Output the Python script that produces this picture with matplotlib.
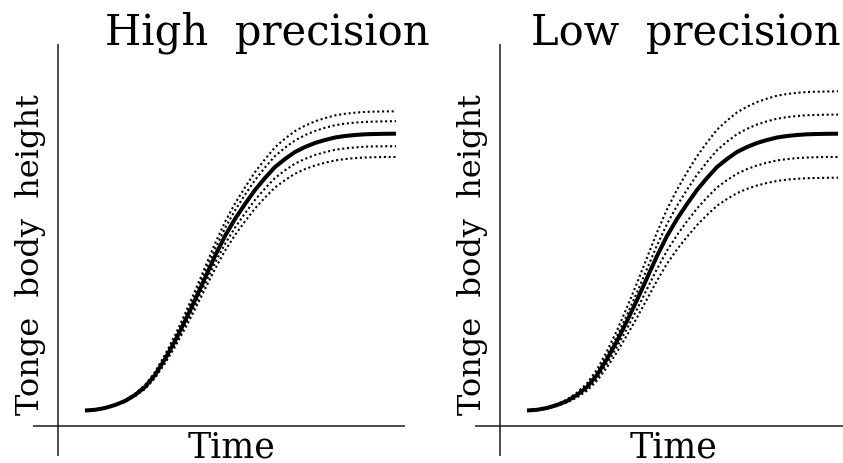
import matplotlib.pyplot as plt

# Data (time in ms from movement onset, height in arbitrary units)
Time = [0, 10, 20, 30, 40, 50, 60, 70, 80, 90, 100, 110, 120, 130, 140, 150,
        160, 170, 180, 190, 200, 210, 220, 230, 240, 250, 260, 270, 280, 290, 300, 311]

MeanHeight = [15.5, 16.2, 18.0, 21.0, 25.0, 31.0, 39.0, 51.0, 67.0, 85.0, 105.0, 126.0,
              148.0, 170.0, 190.0, 207.0, 222.0, 236.0, 248.0, 259.0, 267.0, 274.0,
              279.0, 283.0, 286.0, 288.5, 290.0, 291.0, 291.7, 292.0, 292.2, 292.3]

# High precision trials
HighTrial1 = [15.5, 16.3, 18.2, 21.4, 25.8, 32.3, 40.9, 53.9, 71.2, 90.6, 112.2, 135.0,
              158.7, 182.5, 204.1, 222.5, 238.7, 253.9, 266.8, 278.7, 287.4, 294.9,
              300.3, 304.7, 307.9, 310.6, 312.2, 313.3, 314.1, 314.4, 314.6, 314.7]
HighTrial2 = [15.5, 16.2, 18.1, 21.2, 25.4, 31.7, 40.1, 52.6, 69.3, 88.1, 109.0, 131.0,
              154.0, 177.0, 197.9, 215.6, 231.3, 245.9, 258.5, 270.0, 278.3, 285.6,
              290.9, 295.0, 298.2, 300.8, 302.4, 303.4, 304.1, 304.4, 304.7, 304.8]
HighTrial3 = [15.5, 16.2, 17.9, 20.8, 24.6, 30.3, 37.9, 49.4, 64.7, 81.9, 101.0, 121.0,
              142.0, 163.0, 182.1, 198.4, 212.7, 226.1, 237.5, 248.0, 255.7, 262.4,
              267.1, 271.0, 273.8, 276.2, 277.6, 278.6, 279.3, 279.6, 279.7, 279.8]
HighTrial4 = [15.5, 16.1, 17.8, 20.5, 24.2, 29.7, 37.0, 48.0, 62.7, 79.2, 97.5, 116.7,
              136.9, 157.0, 175.3, 190.9, 204.7, 217.5, 228.5, 238.5, 245.9, 252.3,
              256.9, 260.5, 263.3, 265.6, 266.9, 267.9, 268.5, 268.8, 269.0, 269.0]

# Low precision trials
LowTrial1 = [15.5, 16.3, 18.4, 21.8, 26.5, 33.4, 42.6, 56.4, 74.9, 95.6, 118.7, 142.9,
             168.3, 193.6, 216.7, 236.3, 253.6, 269.7, 283.6, 296.3, 305.5, 313.6,
             319.3, 323.9, 327.4, 330.3, 332.0, 333.2, 334.0, 334.3, 334.5, 334.7]
LowTrial2 = [15.5, 16.2, 18.2, 21.4, 25.7, 32.1, 40.6, 53.4, 70.6, 89.8, 111.2, 133.6,
             157.1, 180.7, 202.0, 220.2, 236.3, 251.2, 264.0, 275.8, 284.4, 291.8,
             297.2, 301.5, 304.7, 307.3, 308.9, 310.0, 310.8, 311.1, 311.3, 311.4]
LowTrial3 = [15.5, 16.1, 17.8, 20.5, 24.2, 29.7, 37.0, 48.0, 62.7, 79.2, 97.5, 116.7,
             136.9, 157.0, 175.3, 190.9, 204.7, 217.5, 228.5, 238.5, 245.9, 252.3,
             256.9, 260.5, 263.3, 265.6, 266.9, 267.9, 268.5, 268.8, 269.0, 269.0]
LowTrial4 = [15.5, 16.1, 17.6, 20.1, 23.5, 28.5, 35.3, 45.4, 58.8, 73.9, 90.8, 108.4,
             126.9, 145.4, 162.3, 176.6, 189.2, 200.9, 211.0, 220.3, 227.0, 232.9,
             237.1, 240.5, 243.0, 245.1, 246.4, 247.2, 247.8, 248.0, 248.2, 248.3]

Titles = ["High  precision", "Low  precision"]
YLabel = "Tonge  body  height"
XLabel = "Time"

plt.rcParams['font.family'] = ['DejaVu Serif']

W, H = 843, 464
fig = plt.figure(figsize=(W / 100, H / 100), dpi=100)

def px_rect(x0, y0, x1, y1):
    return [x0 / W, 1 - y1 / H, (x1 - x0) / W, (y1 - y0) / H]

Panels = [
    (px_rect(33, 45, 405, 457), [HighTrial1, HighTrial2, HighTrial3, HighTrial4], (-52, 320)),
    (px_rect(475, 45, 843, 457), [LowTrial1, LowTrial2, LowTrial3, LowTrial4], (-52, 316)),
]

for rect, trials, xlim in Panels:
    ax = fig.add_axes(rect)
    for trial in trials:
        ax.plot(Time, trial, color='black', lw=1.5, linestyle=(0, (1, 1.3)))
    ax.plot(Time, MeanHeight, color='black', lw=2.9, solid_capstyle='butt')
    ax.axhline(0, color='#1a1a1a', lw=1.1)
    ax.axvline(-27, color='#1a1a1a', lw=1.1)
    ax.set_xlim(xlim)
    ax.set_ylim(-30, 382)
    ax.axis('off')

# Texts
fig.text(105 / W, 1 - 45 / H, Titles[0], fontsize=30, ha='left', va='baseline')
fig.text(531 / W, 1 - 45 / H, Titles[1], fontsize=30, ha='left', va='baseline')
fig.text(31 / W, 1 - 255 / H, YLabel, fontsize=23, rotation=90, ha='center', va='center')
fig.text(473 / W, 1 - 255 / H, YLabel, fontsize=23, rotation=90, ha='center', va='center')
fig.text(231 / W, 1 - 458 / H, XLabel, fontsize=25, ha='center', va='baseline')
fig.text(674 / W, 1 - 458 / H, XLabel, fontsize=25, ha='center', va='baseline')

fig.savefig('out.png', dpi=100)
